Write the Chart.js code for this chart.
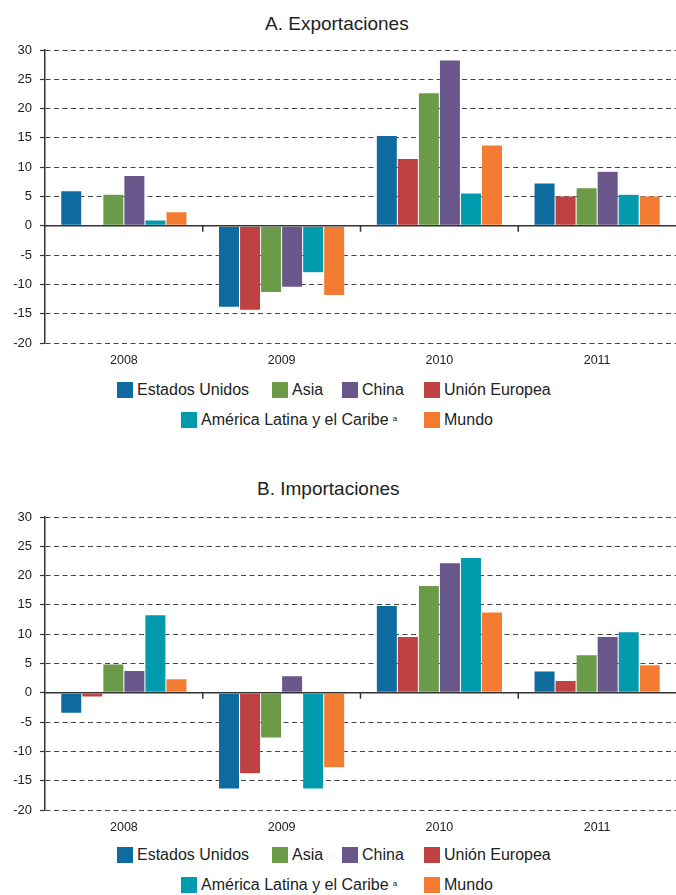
<!DOCTYPE html>
<html>
<head>
<meta charset="utf-8">
<script src="https://cdn.jsdelivr.net/npm/chart.js@4.4.1/dist/chart.umd.min.js"></script>
<style>
  body { margin: 0; background: #fff; font-family: "Liberation Sans", Arial, sans-serif; color: #222; }
  #page { position: relative; width: 676px; height: 895px; overflow: hidden; }
  .box { position: absolute; left: 0; width: 676px; height: 378px; }
  .title { position: absolute; font-size: 19px; line-height: 20px; color: #222; white-space: nowrap; }
  .item { position: absolute; font-size: 16px; line-height: 16px; white-space: nowrap; }
  .item i { display: inline-block; width: 16px; height: 16px; vertical-align: top; margin-right: 4px; }
  .item sup { font-size: 8px; vertical-align: top; position: relative; top: -1px; margin-left: 4px; }
</style>
</head>
<body>
<div id="page">
  <div class="title" style="left:265px; top:14px;">A. Exportaciones</div>
  <div class="box" style="top:0px;"><canvas id="chartA"></canvas></div>
  <div id="legendA"></div>

  <div class="title" style="left:257px; top:479px;">B. Importaciones</div>
  <div class="box" style="top:467px;"><canvas id="chartB"></canvas></div>
  <div id="legendB"></div>
</div>
<script>
var years = ["2008", "2009", "2010", "2011"];

// A. Exportaciones
var expEstadosUnidos = [6.0, -13.9, 15.4, 7.3];
var expUnionEuropea = [0, -14.4, 11.5, 5.1];
var expAsia = [5.4, -11.4, 22.7, 6.5];
var expChina = [8.6, -10.5, 28.3, 9.3];
var expAmericaLatina = [1.0, -8.0, 5.6, 5.4];
var expMundo = [2.4, -11.9, 13.8, 5.1];

// B. Importaciones
var impEstadosUnidos = [-3.5, -16.4, 14.9, 3.7];
var impUnionEuropea = [-0.7, -13.8, 9.6, 2.1];
var impAsia = [4.9, -7.7, 18.3, 6.5];
var impChina = [3.8, 2.9, 22.2, 9.6];
var impAmericaLatina = [13.3, -16.4, 23.1, 10.4];
var impMundo = [2.4, -12.8, 13.8, 4.8];

var yMin = -20, yMax = 30, yStep = 5;

var colors = {
    eu: "#0d6b9f",
    ue: "#bf4141",
    asia: "#6b9a49",
    china: "#69568a",
    alc: "#029bad",
    mundo: "#f37c32"
};

// legend order differs from the bar order
var legendRows = [
    [["Estados Unidos", colors.eu, 117], ["Asia", colors.asia, 272], ["China", colors.china, 342], ["Unión Europea", colors.ue, 424]],
    [["América Latina y el Caribe", colors.alc, 181, "a"], ["Mundo", colors.mundo, 424]]
];

function buildLegend(id, top){
    var html = "";
    legendRows.forEach(function(row, r){
        row.forEach(function(it){
            html += "<div class='item' style='left:" + it[2] + "px; top:" + (top + r * 30) + "px;'>" +
                "<i style='background:" + it[1] + "'></i>" + it[0] + (it[3] ? "<sup>" + it[3] + "</sup>" : "") + "</div>";
        });
    });
    document.getElementById(id).innerHTML = html;
}
buildLegend("legendA", 382);
buildLegend("legendB", 847);

// solid zero line and small category separators under it
var zeroLine = {
    id: "zeroLine",
    afterDatasetsDraw: function(chart){
        var ctx = chart.ctx, a = chart.chartArea;
        var y0 = chart.scales.y.getPixelForValue(0);
        var xs = chart.scales.x;
        ctx.save();
        ctx.strokeStyle = "#333";
        ctx.lineWidth = 1.5;
        ctx.beginPath();
        ctx.moveTo(a.left, y0);
        ctx.lineTo(a.right, y0);
        for (var i = 0; i < years.length - 1; i++) {
            var xb = (xs.getPixelForValue(i) + xs.getPixelForValue(i + 1)) / 2;
            ctx.moveTo(xb, y0);
            ctx.lineTo(xb, y0 + 6);
        }
        ctx.stroke();
        ctx.restore();
    }
};

function makeChart(id, us, ue, asia, china, alc, mundo){
    var ds = function(label, data, color){
        return { label: label, data: data, backgroundColor: color, borderColor: "rgba(255,255,255,0.3)", borderWidth: 0.5, borderSkipped: false };
    };
    return new Chart(document.getElementById(id), {
        type: "bar",
        data: {
            labels: years,
            datasets: [
                ds("Estados Unidos", us, colors.eu),
                ds("Unión Europea", ue, colors.ue),
                ds("Asia", asia, colors.asia),
                ds("China", china, colors.china),
                ds("América Latina y el Caribe", alc, colors.alc),
                ds("Mundo", mundo, colors.mundo)
            ]
        },
        plugins: [zeroLine],
        options: {
            responsive: true,
            maintainAspectRatio: false,
            animation: false,
            layout: { padding: { top: 50, right: 0, bottom: 0, left: 0 } },
            datasets: { bar: { barPercentage: 1, categoryPercentage: 0.8 } },
            plugins: { legend: { display: false }, title: { display: false }, tooltip: { enabled: false } },
            scales: {
                x: {
                    grid: { display: false, drawTicks: false },
                    border: { display: false },
                    ticks: { color: "#222", padding: 10, font: { family: "Liberation Sans", size: 12.5 } }
                },
                y: {
                    min: yMin,
                    max: yMax,
                    afterFit: function(s){ s.width = 45; },
                    ticks: { stepSize: yStep, color: "#222", padding: 8, font: { family: "Liberation Sans", size: 13 } },
                    grid: { color: "#444", lineWidth: 1, tickLength: 5, tickColor: "#333", tickWidth: 1.2 },
                    border: { display: true, color: "#333", width: 1.5, dash: [5, 3.5] }
                }
            }
        }
    });
}

makeChart("chartA", expEstadosUnidos, expUnionEuropea, expAsia, expChina, expAmericaLatina, expMundo);
makeChart("chartB", impEstadosUnidos, impUnionEuropea, impAsia, impChina, impAmericaLatina, impMundo);
</script>
</body>
</html>
